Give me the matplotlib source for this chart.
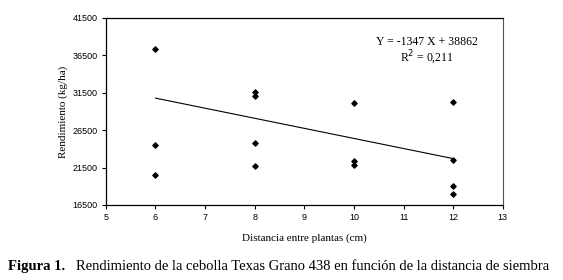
import matplotlib
matplotlib.use("Agg")
import matplotlib.pyplot as plt
import numpy as np

# spacing between plants (cm) and yield (kg/ha)
distancia = [6, 6, 6, 8, 8, 8, 8, 10, 10, 10, 12, 12, 12, 12]
rendimiento = [37300, 24500, 20500, 31600, 31000, 24750, 21700,
               30100, 22400, 21850, 30200, 22500, 19100, 18000]

# fitted line from the chart
pendiente = -1347
intercepto = 38862

x_ticks = [5, 6, 7, 8, 9, 10, 11, 12, 13]
y_ticks = [16500, 21500, 26500, 31500, 36500, 41500]

serif = "Liberation Serif"
sans = "Liberation Sans"

fig = plt.figure(figsize=(5.63, 2.8), dpi=100)
ax = fig.add_axes([0.188, 0.268, 0.705, 0.668])

ax.scatter(distancia, rendimiento, marker="D", s=7, color="black", zorder=3)

xs = np.array([min(distancia), max(distancia)])
ax.plot(xs, pendiente * xs + intercepto, color="black", lw=0.8)

ax.set_xlim(5, 13)
ax.set_ylim(16500, 41500)
ax.set_xticks(x_ticks)
ax.set_yticks(y_ticks)
ax.tick_params(direction="out", length=3, width=0.8, labelsize=6.5, pad=3)
for lbl in ax.get_xticklabels() + ax.get_yticklabels():
    lbl.set_family(sans)

ax.spines["right"].set_linestyle((0, (1, 1)))
ax.spines["right"].set_color("#555555")
ax.spines["right"].set_linewidth(0.8)
for s in ["top", "left", "bottom"]:
    ax.spines[s].set_linewidth(0.9)

ax.set_xlabel("Distancia entre plantas (cm)", family=serif, fontsize=8, labelpad=8)
ax.set_ylabel("Rendimiento (kg/ha)", family=serif, fontsize=8, labelpad=3)

ax.text(0.81, 0.87, "Y = -1347 X + 38862", transform=ax.transAxes,
        ha="center", va="center", family=serif, fontsize=8.5)
ax.text(0.81, 0.785, "R$^2$ = 0,211", transform=ax.transAxes,
        ha="center", va="center", family=serif, fontsize=8.5)

fig.text(0.014, 0.035, "Figura 1.", family=serif, fontweight="bold", fontsize=10.5)
fig.text(0.135, 0.035, "Rendimiento de la cebolla Texas Grano 438 en función de la distancia de siembra",
         family=serif, fontsize=10.5)

fig.savefig("out.png", dpi=100)
